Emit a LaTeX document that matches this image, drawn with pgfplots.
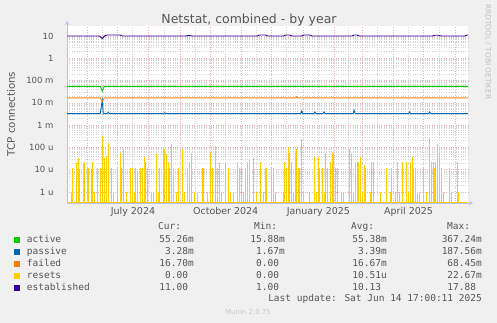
\documentclass[border=0pt]{standalone}
\usepackage{fontspec}
\setmainfont{DejaVu Sans}
\newfontfamily\monof{DejaVu Sans Mono}
\usepackage{pgfplots}
\usepackage{pgfplotstable}
\pgfplotsset{compat=1.18}
\definecolor{bgc}{HTML}{F0F0F0}
\definecolor{txt}{HTML}{555555}
\definecolor{cactive}{HTML}{00CC00}
\definecolor{cpassive}{HTML}{0066B3}
\definecolor{cfailed}{HTML}{FF8000}
\definecolor{cresets}{HTML}{FFCC00}
\definecolor{cestab}{HTML}{330099}
\definecolor{majg}{RGB}{232,175,175}
\definecolor{ming}{RGB}{212,212,212}
\definecolor{axc}{RGB}{190,190,235}

% resets: day (0 = 1 Jun 2024), value
\pgfplotstableread{
d v
-16 1.0e-6
-15 1.2e-5
-11 2.3e-5
-9 3.2e-5
-8 1.1e-5
-4 2.0e-5
-3 2.3e-5
0 1.2e-5
1 1.2e-5
4 1.0e-5
5 2.3e-5
7 1.0e-6
10 1.2e-5
13 1.2e-5
15 3.2e-4
17 3.2e-5
19 4.1e-5
21 1.5e-4
24 1.2e-5
26 1.0e-6
30 1.2e-5
33 5.4e-5
34 1.2e-5
36 8.2e-5
39 1.0e-6
43 1.2e-5
45 1.2e-5
47 1.0e-6
48 1.2e-5
50 8.0e-6
53 1.2e-5
55 1.2e-5
57 3.6e-5
58 2.3e-5
60 1.2e-5
64 1.0e-6
66 1.0e-6
69 5.0e-5
71 1.0e-6
72 1.2e-5
76 8.2e-5
77 8.2e-5
79 5.0e-5
81 2.3e-5
82 1.2e-5
84 1.4e-4
86 1.2e-5
89 1.0e-6
91 1.2e-5
95 8.2e-5
97 1.0e-6
99 1.2e-5
101 2.3e-5
103 5.4e-5
106 1.0e-6
109 1.0e-6
114 1.2e-5
115 1.2e-5
119 1.0e-6
122 5.8e-5
124 1.2e-5
127 1.1e-4
129 1.2e-5
131 2.3e-5
133 1.0e-6
137 2.3e-5
140 1.2e-5
142 1.0e-6
145 1.0e-6
149 2.3e-5
151 1.2e-5
153 1.2e-5
155 1.0e-6
157 1.2e-5
159 2.3e-5
161 2.7e-5
165 3.2e-5
168 1.0e-6
172 2.3e-5
175 1.0e-6
177 1.2e-5
178 1.2e-5
183 1.2e-5
185 1.2e-5
187 1.0e-6
195 1.0e-6
196 2.3e-5
198 1.2e-5
200 1.0e-4
201 5.4e-5
203 2.3e-5
205 1.0e-6
207 5.4e-5
208 8.2e-5
210 1.2e-5
211 1.2e-5
213 2.3e-4
215 1.0e-6
221 1.0e-6
226 3.6e-5
228 1.0e-6
230 3.6e-5
231 1.2e-5
233 1.2e-5
235 1.0e-6
236 5.4e-5
238 1.2e-5
241 2.3e-5
243 5.4e-5
244 5.4e-5
246 1.2e-5
248 1.2e-5
252 1.0e-6
254 1.0e-6
260 8.2e-5
262 5.4e-5
264 1.0e-6
266 2.3e-5
268 2.3e-5
269 2.3e-5
271 3.6e-5
273 1.0e-6
275 1.6e-5
276 1.2e-5
281 1.0e-6
282 2.3e-5
284 2.3e-5
291 1.0e-6
297 1.2e-5
301 1.0e-6
302 1.2e-5
306 1.0e-6
308 2.3e-5
310 1.0e-6
313 2.3e-5
317 2.3e-5
319 1.0e-6
321 2.3e-5
323 3.6e-5
324 1.2e-5
326 1.2e-5
328 1.0e-6
330 1.0e-6
334 1.2e-5
337 1.0e-6
340 2.55e-4
342 2.3e-5
344 2.3e-5
345 1.2e-5
346 2.3e-5
348 1.4e-4
350 5.4e-5
352 1.2e-5
354 1.0e-6
360 1.2e-5
362 1.0e-6
367 2.3e-5
368 1.0e-6
}\resetsdata

\newcommand\lf{\monof\fontsize{9.5}{11}\selectfont}
\newcommand\lrow[8]{%
  \fill[#2] (14,{323-#1-3}) rectangle ++(6,6);
  \node[anchor=mid west,font=\lf,text=txt,inner sep=0] at (26.7,{323-#1}) {#3};
  \node[anchor=mid east,font=\lf,text=txt,inner sep=0] at (194,{323-#1}) {#4};
  \node[anchor=mid east,font=\lf,text=txt,inner sep=0] at (285,{323-#1}) {#5};
  \node[anchor=mid east,font=\lf,text=txt,inner sep=0] at (387,{323-#1}) {#6};
  \node[anchor=mid east,font=\lf,text=txt,inner sep=0] at (482,{323-#1}) {#7};
}
\newcommand\nm{\phantom{m}}

\begin{document}
\begin{tikzpicture}[x=1pt,y=1pt]
\fill[bgc] (0,0) rectangle (497,323);
\useasboundingbox (0,0) rectangle (497,323);
\begin{axis}[
  at={(67pt,120pt)}, anchor=south west,
  scale only axis, width=401pt, height=177pt,
  xmin=-20, xmax=378,
  ymode=log, ymin=3.2e-7, ymax=28,
  log origin y=infty,
  axis background/.style={fill=white},
  axis x line*=bottom, axis y line*=left,
  axis line style={draw=axc, line width=0.8pt, -stealth, shorten >=-5pt},
  major tick length=0pt, minor tick length=0pt,
  xtick={45.5,137.5,229.5,319},
  xticklabels={July 2024, October 2024, January 2025, April 2025},
  minor xtick={15,45,76,107,137,168,198,229,259,288,319,349},
  extra x ticks={0,30,61,92,122,153,183,214,245,273,304,334,365},
  extra x tick labels={},
  extra x tick style={grid=major},
  xmajorgrids=false, xminorgrids=true,
  ymajorgrids=true, yminorgrids=true,
  ytick={1e-6,1e-5,1e-4,1e-3,1e-2,1e-1,1,10},
  yticklabels={1 u,10 u,100 u,1 m,10 m,100 m,1,10},
  major grid style={draw=majg, dotted, line width=0.45pt},
  minor grid style={draw=ming, dotted, line width=0.4pt},
  yticklabel style={font=\fontsize{8.5}{10}\selectfont, text=txt, xshift=-10pt},
  xticklabel style={font=\fontsize{9.5}{11}\selectfont, text=txt, yshift=-1pt},
]
% active
\addplot[cactive, line width=0.9pt] coordinates {(-20,0.055) (13,0.055) (15,0.034) (17,0.055) (378,0.055)};
% passive
\addplot[cpassive, line width=0.9pt] coordinates {(-20,0.0033) (13,0.0033) (15,0.013) (16,0.0033) (20,0.0033) (21,0.0038) (22,0.0033) (76,0.0033) (77,0.0036) (78,0.0033) (212,0.0033) (213,0.0043) (214,0.0033) (225,0.0033) (226,0.0039) (227,0.0033) (234,0.0033) (235,0.0039) (236,0.0033) (264,0.0033) (265,0.0046) (266,0.0033) (319,0.0033) (320,0.0039) (321,0.0033) (339,0.0033) (340,0.0039) (341,0.0033) (378,0.0033)};
% failed
\addplot[cfailed, line width=0.9pt] coordinates {(-20,0.0167) (13,0.0167) (15,0.0118) (17,0.0167) (207,0.0167) (208,0.019) (209,0.0167) (378,0.0167)};
% resets
\addplot[cresets, line width=0.9pt] coordinates {(-20,3.3e-7) (378,3.3e-7)};
\addplot[cresets, ycomb, line width=0.8pt] table[x=d,y=v] {\resetsdata};
% established
\addplot[cestab, line width=0.9pt] coordinates {(-20,10) (12,10) (15,7.8) (18,10.5) (20,11) (33,11) (35,10) (98,10) (101,10.6) (104,10) (169,10) (171,11) (177,11) (179,10) (195,10) (197,11) (201,11) (203,10) (213,10) (215,11) (221,11) (223,10) (263,10) (265,11) (268,11) (270,10) (343,10) (345,10.8) (349,10.8) (351,10) (375,10) (377,11) (378,11)};
\end{axis}
% title
\node[anchor=base, font=\fontsize{12.5}{14}\selectfont, text=txt, inner sep=0] at (249,299) {Netstat, combined - by year};
% y label
\node[rotate=90, font=\fontsize{10.3}{12}\selectfont, text=txt, inner sep=0] at (11,{323-114}) {TCP connections};
% side text
\node[rotate=-90, font=\fontsize{7.4}{9}\selectfont, text={rgb,255:red,190;green,190;blue,190}, inner sep=0] at (488,{323-52}) {RRDTOOL / TOBI OETIKER};
% legend header
\node[anchor=mid west,font=\lf,text=txt,inner sep=0] at (158,{323-227}) {Cur:};
\node[anchor=mid west,font=\lf,text=txt,inner sep=0] at (254,{323-227}) {Min:};
\node[anchor=mid west,font=\lf,text=txt,inner sep=0] at (351,{323-227}) {Avg:};
\node[anchor=mid west,font=\lf,text=txt,inner sep=0] at (447,{323-227}) {Max:};
\lrow{240}{cactive}{active}{55.26m}{15.88m}{55.38m}{367.24m}{}
\lrow{252}{cpassive}{passive}{3.28m}{1.67m}{3.39m}{187.56m}{}
\lrow{264}{cfailed}{failed}{16.70m}{0.00\nm}{16.67m}{68.45m}{}
\lrow{276}{cresets}{resets}{0.00\nm}{0.00\nm}{10.51u}{22.67m}{}
\lrow{288}{cestab}{established}{11.00\nm}{1.00\nm}{10.13\nm}{17.88\nm}{}
\node[anchor=mid east,font=\lf,text=txt,inner sep=0] at (482,{323-299}) {Last update: Sat Jun 14 17:00:11 2025};
\node[font=\fontsize{7}{8}\selectfont, text={rgb,255:red,200;green,200;blue,200}, inner sep=0] at (248,{323-312}) {Munin 2.0.75};
\end{tikzpicture}
\end{document}
